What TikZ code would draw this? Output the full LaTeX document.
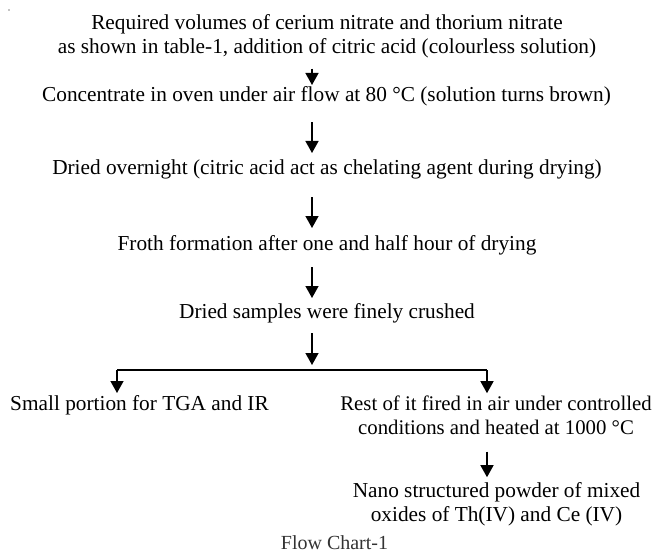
\documentclass[tikz,border=0pt]{standalone}
\usepackage{fontspec}
\setmainfont{Liberation Serif}
\usetikzlibrary{arrows.meta}
\begin{document}
\begin{tikzpicture}[x=1pt,y=-1pt,
  txt/.style={inner sep=0pt, font=\fontsize{21.3}{24}\selectfont, align=center},
  arr/.style={line width=1.4pt, -{Triangle[length=12pt,width=13pt]}},
  bar/.style={line width=1.4pt}]
\useasboundingbox (0,0) rectangle (655,556);
\fill (9,10) circle (0.6pt);
% main chain
\node[txt, anchor=north] (n1) at (327,29-16.8) {\strut Required volumes of cerium nitrate and thorium nitrate\\ \strut as shown in table-1, addition of citric acid (colourless solution)};
\node[txt, anchor=base] (n2) at (326.5,102) {\strut Concentrate in oven under air flow at 80 °C (solution turns brown)};
\node[txt, anchor=base] (n3) at (327,175) {\strut Dried overnight (citric acid act as chelating agent during drying)};
\node[txt, anchor=base] (n4) at (327,250) {\strut Froth formation after one and half hour of drying};
\node[txt, anchor=base] (n5) at (327,318) {\strut Dried samples were finely crushed};
\coordinate (ax) at (312,0);
\coordinate (jn) at (312,370);
\coordinate (jl) at (117,370);
\coordinate (jr) at (487,370);
\node[txt, anchor=base] (L) at (139.5,410) {\strut Small portion for TGA and IR};
\node[txt, anchor=north, font=\fontsize{20.8}{24}\selectfont] (R) at (496,410-16.8) {\strut Rest of it fired in air under controlled\\ \strut conditions and heated at 1000 °C};
\node[txt, anchor=north] (N) at (496.5,497-16.8) {\strut Nano structured powder of mixed\\ \strut oxides of Th(IV) and Ce (IV)};
\node[txt, anchor=base, font=\fontsize{20}{24}\selectfont, text=black!80] (F) at (334.5,549) {\strut Flow Chart-1};
% connectors
\draw[arr, shorten <=8pt] (n1.south -| ax) -- (n2.north -| ax);
\draw[arr, shorten <=13pt, shorten >=5pt] (n2.south -| ax) -- (n3.north -| ax);
\draw[arr, shorten <=15pt, shorten >=5pt] (n3.south -| ax) -- (n4.north -| ax);
\draw[arr, shorten <=10pt, shorten >=3pt] (n4.south -| ax) -- (n5.north -| ax);
\draw[arr, shorten <=8pt, shorten >=5pt] (n5.south -| ax) -- (jn);
\draw[bar] (jl) -- (jr);
\draw[arr] (jl) -- (jl |- L.north);
\draw[arr] (jr) -- (jr |- R.north);
\draw[arr, shorten <=10pt, shorten >=3pt] (R.south -| jr) -- (N.north -| jr);
\end{tikzpicture}
\end{document}
